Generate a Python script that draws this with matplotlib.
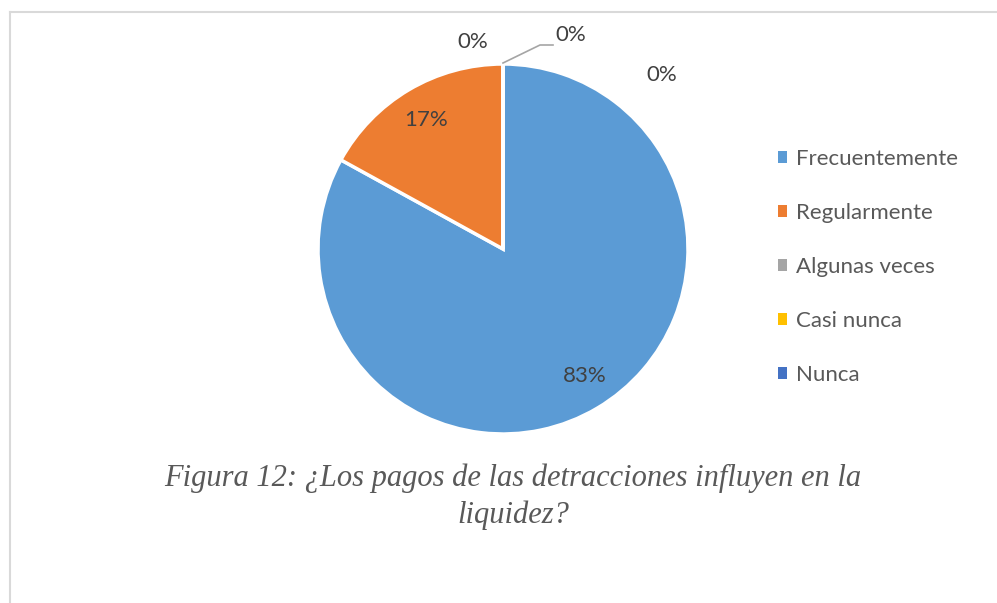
import matplotlib
matplotlib.use("Agg")
import matplotlib.pyplot as plt
from matplotlib.patches import Patch
from matplotlib.lines import Line2D

categories = ["Frecuentemente", "Regularmente", "Algunas veces", "Casi nunca", "Nunca"]
values = [83, 17, 0, 0, 0]
colors = ["#5B9BD5", "#ED7D31", "#A5A5A5", "#FFC000", "#4472C4"]
caption_lines = ["Figura 12: ¿Los pagos de las detracciones influyen en la", "liquidez?"]

W, H = 997, 603
fig = plt.figure(figsize=(W / 100, H / 100), dpi=100)
ax = fig.add_axes([0, 0, 1, 1])
ax.set_xlim(0, W)
ax.set_ylim(0, H)
ax.set_aspect("equal")
ax.axis("off")

cx, cy, r = 503, H - 249, 185
wedges, _ = ax.pie(values, colors=colors, startangle=90, counterclock=False,
                   center=(cx, cy), radius=r,
                   wedgeprops=dict(edgecolor="white", linewidth=2.5))
ax.set_xlim(0, W)
ax.set_ylim(0, H)

txt_color = "#595959"
lab_font = "Lato"
total = sum(values)
pcts = [f"{round(v / total * 100)}%" for v in values]
# label positions (pixels, y from top)
label_pos = [(585, 376), (426, 120), (473, 42), (571, 35), (662, 75)]
for p, (x, y) in zip(pcts, label_pos):
    ax.text(x, H - y, p, fontsize=16, color="#404040", family=lab_font,
            ha="center", va="center")

# leader line for 4th label
ax.add_line(Line2D([503, 540, 553], [H - 63, H - 45, H - 45],
                   color="#A5A5A5", linewidth=1.2))

# frame
ax.add_line(Line2D([9.5, W], [H - 12, H - 12], color="#D9D9D9", linewidth=1.5))
ax.add_line(Line2D([9.5, 9.5], [H - 12, 0], color="#D9D9D9", linewidth=1.5))

handles = [Patch(facecolor=c, edgecolor="none") for c in colors]
leg = ax.legend(handles, categories, loc="upper left",
                bbox_to_anchor=(778 / W, 1 - 149 / H), bbox_transform=fig.transFigure,
                frameon=False, handlelength=0.4, handleheight=0.4,
                handletextpad=0.4, labelspacing=1.53, borderpad=0, borderaxespad=0,
                prop=dict(family=lab_font, size=16))
for t in leg.get_texts():
    t.set_color(txt_color)

for line, yb in zip(caption_lines, [486, 523]):
    ax.text(513, H - yb, line, fontsize=22, family="Liberation Serif", style="italic",
            color=txt_color, ha="center", va="baseline")

fig.savefig("out.png", dpi=100)
